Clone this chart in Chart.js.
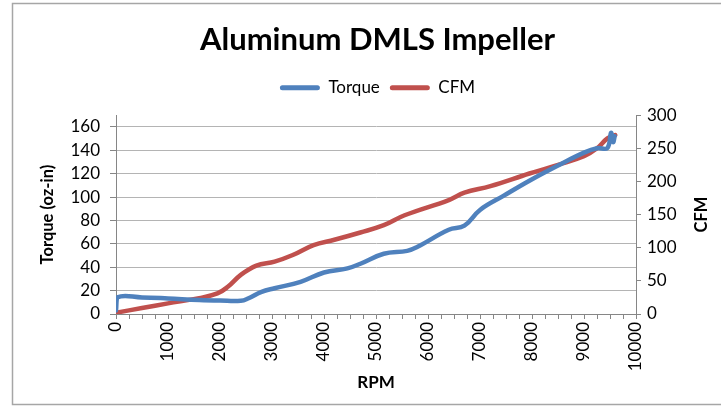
<!DOCTYPE html>
<html>
<head>
<meta charset="utf-8">
<script src="https://cdn.jsdelivr.net/npm/chart.js@4.4.1/dist/chart.umd.min.js"></script>
<style>
  html, body { margin: 0; padding: 0; background: #fff; }
  #wrap { width: 721px; height: 406px; position: relative; }
</style>
</head>
<body>
<div id="wrap"><canvas id="c" width="721" height="406"></canvas></div>
<script>
const chartTitle = 'Aluminum DMLS Impeller';
const seriesNames = ['Torque', 'CFM'];
const xTitle = 'RPM';
const yLeftTitle = 'Torque (oz-in)';
const yRightTitle = 'CFM';

const torqueRpm = [0, 30, 500, 1000, 1600, 2000, 2400, 2550, 2800, 3050, 3550, 4000, 4450, 4700, 5150, 5600, 5800, 6400, 6700, 7000, 7450, 7950, 8500, 9000, 9250, 9450, 9520, 9560, 9590];
const torqueVals = [3, 14.3, 14.2, 13.3, 12, 11.5, 11.3, 13.5, 19, 22, 27.5, 35.5, 39, 43, 51.5, 54, 57.5, 72, 75.5, 89, 101, 114, 127, 138, 141.8, 142, 155, 147, 152];

const cfmRpm = [0, 500, 1000, 1600, 1950, 2150, 2400, 2700, 3050, 3400, 3800, 4200, 4700, 5150, 5550, 6400, 6700, 7200, 7950, 8500, 9000, 9250, 9450, 9600];
const cfmVals = [2, 9, 16, 24, 31, 41, 59, 73, 79, 89, 104, 112, 123, 134, 149, 172, 183, 193, 212, 225, 238, 250, 265, 270];

const xMin = 0, xMax = 10000, xMajor = 1000, xMinor = 250;
const yLeftMax = 170;
const yLeftTicks = [0, 20, 40, 60, 80, 100, 120, 140, 160];
const yRightMax = 300, yRightStep = 50;

const FONT = 'Lato, "Open Sans", sans-serif';
const AXIS = '#868686';

function pts(xs, ys) { return xs.map((x, i) => ({ x: x, y: ys[i] })); }

const borderPlugin = {
  id: 'outerBorder',
  beforeDraw(chart) {
    const ctx = chart.ctx;
    ctx.save();
    ctx.strokeStyle = '#a6a6a6';
    ctx.lineWidth = 1.5;
    ctx.strokeRect(12.5, 3.5, 720, 401);
    ctx.restore();
  }
};

const rightTitlePlugin = {
  id: 'rightTitle',
  afterDraw(chart) {
    const ctx = chart.ctx;
    const area = chart.chartArea;
    ctx.save();
    ctx.translate(702, (area.top + area.bottom) / 2);
    ctx.rotate(-Math.PI / 2);
    ctx.font = 'bold 16.5px ' + FONT;
    ctx.fillStyle = '#000';
    ctx.textAlign = 'center';
    ctx.textBaseline = 'middle';
    ctx.fillText(yRightTitle, 0, 0);
    ctx.restore();
  }
};

const legendMargin = {
  id: 'legendMargin',
  beforeInit(chart) {
    const origFit = chart.legend.fit;
    chart.legend.fit = function () {
      origFit.bind(chart.legend)();
      this.height += 9;
    };
  }
};

new Chart(document.getElementById('c'), {
  type: 'line',
  data: {
    datasets: [
      {
        label: seriesNames[0],
        data: pts(torqueRpm, torqueVals),
        borderColor: '#4F81BD',
        backgroundColor: '#4F81BD',
        borderWidth: 4.5,
        pointRadius: 0,
        tension: 0.4,
        fill: false,
        yAxisID: 'y',
        borderCapStyle: 'round',
        borderJoinStyle: 'round'
      },
      {
        label: seriesNames[1],
        data: pts(cfmRpm, cfmVals),
        borderColor: '#C0504D',
        backgroundColor: '#C0504D',
        borderWidth: 4.5,
        pointRadius: 0,
        tension: 0.4,
        fill: false,
        yAxisID: 'y2',
        borderCapStyle: 'round',
        borderJoinStyle: 'round'
      }
    ]
  },
  options: {
    responsive: false,
    animation: false,
    devicePixelRatio: 1,
    layout: { padding: { left: 34, right: 0, top: 0, bottom: 9 } },
    plugins: {
      title: {
        display: true,
        text: chartTitle,
        color: '#000',
        font: { family: FONT, size: 31, weight: 'bold', lineHeight: 1.2 },
        padding: { top: 21, bottom: 11 }
      },
      legend: {
        display: true,
        position: 'top',
        labels: {
          color: '#000',
          font: { family: FONT, size: 17 },
          boxWidth: 40,
          boxHeight: 5,
          padding: 10,
          useBorderRadius: true,
          borderRadius: 2.5,
          generateLabels(chart) {
            const items = Chart.defaults.plugins.legend.labels.generateLabels(chart);
            items.forEach(it => { it.lineWidth = 0; });
            return items;
          }
        }
      },
      tooltip: { enabled: false }
    },
    scales: {
      x: {
        type: 'linear',
        min: xMin,
        max: xMax,
        afterFit(scale) { scale.height = 83; },
        border: { color: AXIS, width: 1 },
        grid: { drawOnChartArea: false, drawTicks: true, tickLength: 5, color: AXIS },
        ticks: {
          stepSize: xMinor,
          autoSkip: false,
          maxRotation: 90,
          minRotation: 90,
          padding: 3,
          color: '#000',
          font: { family: FONT, size: 17 },
          callback: v => (v % xMajor === 0 ? String(v) : '')
        },
        title: {
          display: true,
          text: xTitle,
          color: '#000',
          font: { family: FONT, size: 17, weight: 'bold' },
          padding: 4
        }
      },
      y: {
        type: 'linear',
        position: 'left',
        min: 0,
        max: yLeftMax,
        afterFit(scale) { scale.width = 82; },
        afterBuildTicks(scale) {
          scale.ticks = yLeftTicks.map(v => ({ value: v }));
        },
        border: { color: AXIS, width: 1 },
        grid: { color: '#b4b4b4', lineWidth: 1, tickLength: 6, tickColor: AXIS },
        ticks: {
          padding: 10,
          color: '#000',
          font: { family: FONT, size: 17 }
        },
        title: {
          display: true,
          text: yLeftTitle,
          color: '#000',
          font: { family: FONT, size: 16.5, weight: 'bold' },
          padding: 4
        }
      },
      y2: {
        type: 'linear',
        position: 'right',
        min: 0,
        max: yRightMax,
        afterFit(scale) { scale.width = 85; },
        border: { color: AXIS, width: 1 },
        grid: { drawOnChartArea: false, tickLength: 5, color: AXIS },
        ticks: {
          stepSize: yRightStep,
          padding: 6,
          color: '#000',
          font: { family: FONT, size: 17 }
        }
      }
    }
  },
  plugins: [borderPlugin, rightTitlePlugin, legendMargin]
});
</script>
</body>
</html>
